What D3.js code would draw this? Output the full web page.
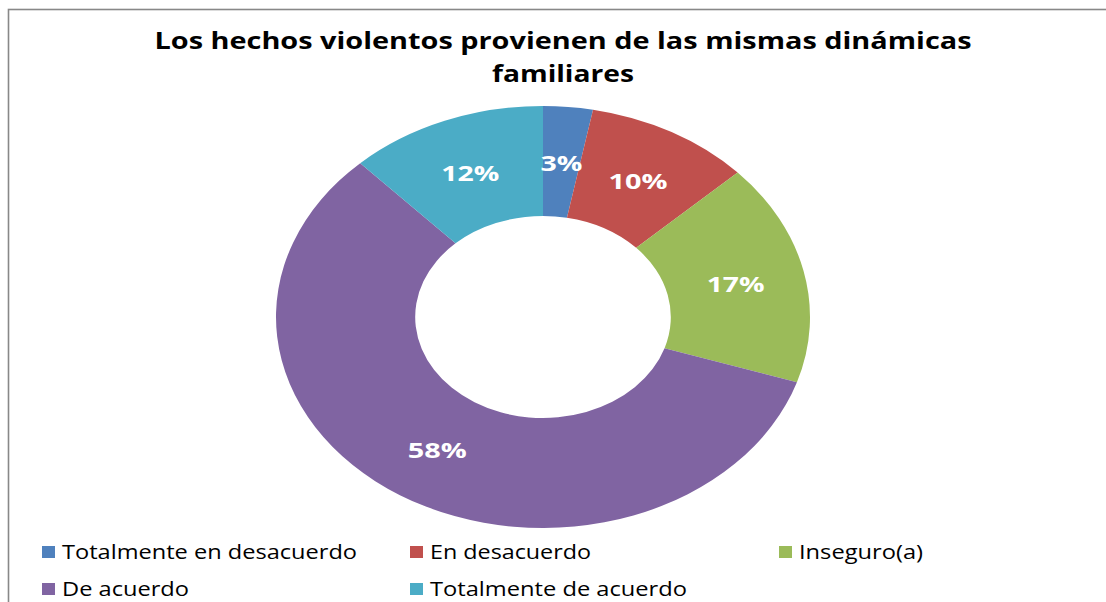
<!DOCTYPE html>
<html>
<head>
<meta charset="utf-8">
<script src="https://cdn.jsdelivr.net/npm/d3@7"></script>
<style>
  body { margin: 0; background: #fff; }
  text { font-family: "Open Sans", "DejaVu Sans", sans-serif; }
</style>
</head>
<body>
<div id="chart"></div>
<script>
// data
var categories = ["Totalmente en desacuerdo", "En desacuerdo", "Inseguro(a)", "De acuerdo", "Totalmente de acuerdo"];
var values = [3, 10, 17, 58, 12];
var colors = ["#4F81BD", "#C0504D", "#9BBB59", "#8064A2", "#4BACC6"];
var titleLines = ["Los hechos violentos provienen de las mismas dinámicas", "familiares"];

var svgWidth = 1106;
var svgHeight = 602;

var svg = d3.select("#chart")
  .append("svg")
  .attr("width", svgWidth)
  .attr("height", svgHeight);

// chart frame (only left + top visible)
svg.append("rect")
  .attr("x", 8.5)
  .attr("y", 9.5)
  .attr("width", 1200)
  .attr("height", 700)
  .attr("fill", "#fff")
  .attr("stroke", "#888")
  .attr("stroke-width", 1.6);

// title
var titleY = [48.5, 81.5];
var titleW = [817, 142];
svg.selectAll(".title")
  .data(titleLines)
  .enter()
  .append("text")
  .attr("class", "title")
  .attr("x", 563)
  .attr("y", (d, i) => titleY[i])
  .attr("text-anchor", "middle")
  .attr("font-size", 24)
  .attr("font-weight", "bold")
  .attr("fill", "#000")
  .attr("textLength", (d, i) => titleW[i])
  .attr("lengthAdjust", "spacingAndGlyphs")
  .text(d => d);

// donut (drawn as a circle, then stretched horizontally like the original)
var cx = 543, cy = 317;
var outerR = 211, innerR = 101;
var stretch = 267 / 211;

var pie = d3.pie().sort(null).value(d => d);
var arcs = pie(values);

var arc = d3.arc().innerRadius(innerR).outerRadius(outerR);
var labelArc = d3.arc().innerRadius((innerR + outerR) / 2).outerRadius((innerR + outerR) / 2);

var donut = svg.append("g")
  .attr("transform", `translate(${cx}, ${cy}) scale(${stretch}, 1)`);

donut.selectAll("path")
  .data(arcs)
  .enter()
  .append("path")
  .attr("d", arc)
  .attr("fill", (d, i) => colors[i]);

var labelW = [42, 59, 58, 59, 58];
svg.selectAll(".pct")
  .data(arcs)
  .enter()
  .append("text")
  .attr("class", "pct")
  .attr("x", d => cx + labelArc.centroid(d)[0] * stretch)
  .attr("y", d => cy + labelArc.centroid(d)[1] + 9)
  .attr("text-anchor", "middle")
  .attr("font-size", 22)
  .attr("font-weight", "bold")
  .attr("fill", "#fff")
  .attr("textLength", (d, i) => labelW[i])
  .attr("lengthAdjust", "spacingAndGlyphs")
  .text(d => d.data + "%");

// legend
var legendX = [42, 410, 779, 42, 410];
var legendY = [552, 552, 552, 589, 589];
var legendW = [295, 161, 124, 127, 257];

var legend = svg.selectAll(".legend")
  .data(categories)
  .enter()
  .append("g")
  .attr("class", "legend")
  .attr("transform", (d, i) => `translate(${legendX[i]}, ${legendY[i]})`);

legend.append("rect")
  .attr("x", 0)
  .attr("y", -6)
  .attr("width", 13)
  .attr("height", 12)
  .attr("fill", (d, i) => colors[i]);

legend.append("text")
  .attr("x", 20)
  .attr("y", 7)
  .attr("font-size", 20)
  .attr("fill", "#000")
  .attr("textLength", (d, i) => legendW[i])
  .attr("lengthAdjust", "spacingAndGlyphs")
  .text(d => d);
</script>
</body>
</html>
